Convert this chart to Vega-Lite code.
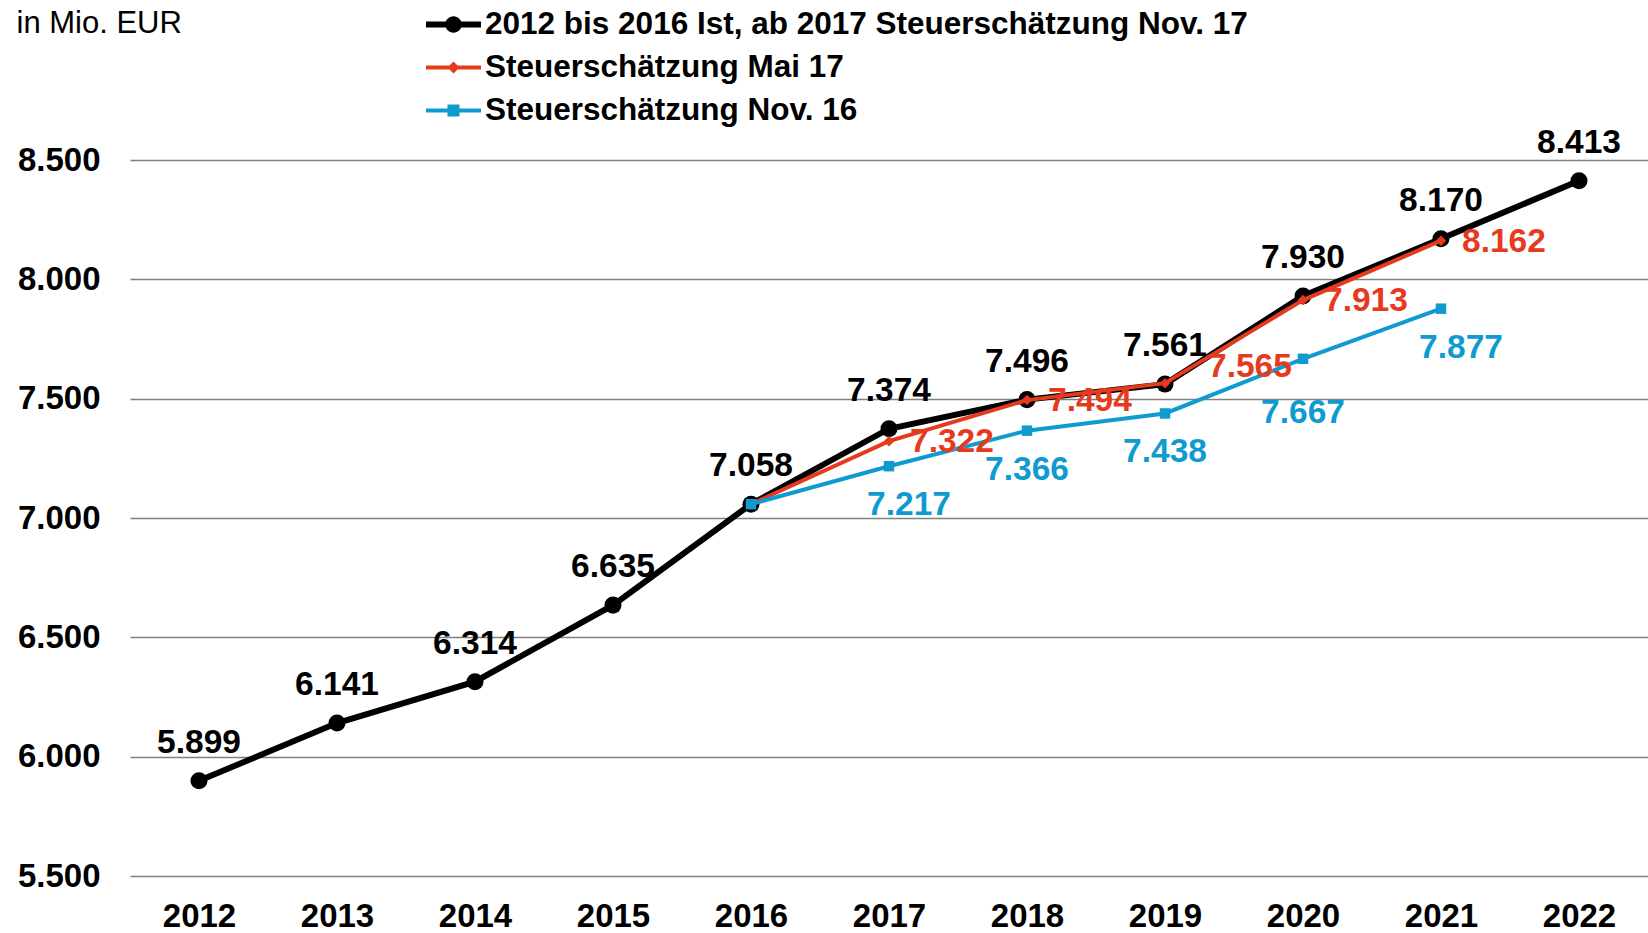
{
  "$schema": "https://vega.github.io/schema/vega-lite/v6.json",
  "width": 1518,
  "height": 716,
  "autosize": {"type": "none"},
  "padding": {"left": 130, "top": 160, "right": 0, "bottom": 57},
  "background": "white",
  "config": {
    "locale": {"number": {"decimal": ",", "thousands": ".", "grouping": [3], "currency": ["", " €"]}},
    "font": "Liberation Sans",
    "view": {"stroke": null}
  },
  "data": {
    "values": [
      {"year": 2012, "series": "2012 bis 2016 Ist, ab 2017 Steuerschätzung Nov. 17", "value": 5899},
      {"year": 2013, "series": "2012 bis 2016 Ist, ab 2017 Steuerschätzung Nov. 17", "value": 6141},
      {"year": 2014, "series": "2012 bis 2016 Ist, ab 2017 Steuerschätzung Nov. 17", "value": 6314},
      {"year": 2015, "series": "2012 bis 2016 Ist, ab 2017 Steuerschätzung Nov. 17", "value": 6635},
      {"year": 2016, "series": "2012 bis 2016 Ist, ab 2017 Steuerschätzung Nov. 17", "value": 7058},
      {"year": 2017, "series": "2012 bis 2016 Ist, ab 2017 Steuerschätzung Nov. 17", "value": 7374},
      {"year": 2018, "series": "2012 bis 2016 Ist, ab 2017 Steuerschätzung Nov. 17", "value": 7496},
      {"year": 2019, "series": "2012 bis 2016 Ist, ab 2017 Steuerschätzung Nov. 17", "value": 7561},
      {"year": 2020, "series": "2012 bis 2016 Ist, ab 2017 Steuerschätzung Nov. 17", "value": 7930},
      {"year": 2021, "series": "2012 bis 2016 Ist, ab 2017 Steuerschätzung Nov. 17", "value": 8170},
      {"year": 2022, "series": "2012 bis 2016 Ist, ab 2017 Steuerschätzung Nov. 17", "value": 8413},
      {"year": 2016, "series": "Steuerschätzung Mai 17", "value": 7058},
      {"year": 2017, "series": "Steuerschätzung Mai 17", "value": 7322},
      {"year": 2018, "series": "Steuerschätzung Mai 17", "value": 7494},
      {"year": 2019, "series": "Steuerschätzung Mai 17", "value": 7565},
      {"year": 2020, "series": "Steuerschätzung Mai 17", "value": 7913},
      {"year": 2021, "series": "Steuerschätzung Mai 17", "value": 8162},
      {"year": 2016, "series": "Steuerschätzung Nov. 16", "value": 7058},
      {"year": 2017, "series": "Steuerschätzung Nov. 16", "value": 7217},
      {"year": 2018, "series": "Steuerschätzung Nov. 16", "value": 7366},
      {"year": 2019, "series": "Steuerschätzung Nov. 16", "value": 7438},
      {"year": 2020, "series": "Steuerschätzung Nov. 16", "value": 7667},
      {"year": 2021, "series": "Steuerschätzung Nov. 16", "value": 7877}
    ]
  },
  "encoding": {
    "x": {
      "field": "year", "type": "ordinal",
      "scale": {"type": "point", "padding": 0.5},
      "axis": {"title": null, "labelAngle": 0, "labelFontSize": 33, "labelFontWeight": "bold", "labelColor": "black", "labelPadding": 24, "ticks": false, "domain": false, "grid": false}
    },
    "y": {
      "field": "value", "type": "quantitative",
      "scale": {"domain": [5500, 8500], "nice": false, "zero": false},
      "axis": {
        "values": [5500, 6000, 6500, 7000, 7500, 8000, 8500],
        "format": ",.0f",
        "labelFontSize": 33, "labelFontWeight": "bold", "labelColor": "black", "labelPadding": 30,
        "ticks": false, "domain": false, "grid": true, "gridColor": "#808080", "gridWidth": 1.5,
        "title": "in Mio. EUR", "titleAngle": 0, "titleX": -114, "titleY": -137, "titleAlign": "left", "titleBaseline": "middle",
        "titleFontSize": 31, "titleFontWeight": "normal", "titleColor": "black"
      }
    }
  },
  "layer": [
    {
      "transform": [{"filter": "datum.series === '2012 bis 2016 Ist, ab 2017 Steuerschätzung Nov. 17'"}],
      "mark": {"type": "line", "color": "#000000", "strokeWidth": 6}
    },
    {
      "transform": [{"filter": "datum.series === '2012 bis 2016 Ist, ab 2017 Steuerschätzung Nov. 17'"}],
      "mark": {"type": "point", "shape": "circle", "filled": true, "color": "#000000", "opacity": 1, "size": 290}
    },
    {
      "transform": [{"filter": "datum.series === 'Steuerschätzung Mai 17'"}],
      "mark": {"type": "line", "color": "#E63A1F", "strokeWidth": 4}
    },
    {
      "transform": [{"filter": "datum.series === 'Steuerschätzung Mai 17'"}],
      "mark": {"type": "point", "shape": "diamond", "filled": true, "color": "#E63A1F", "opacity": 1, "size": 110}
    },
    {
      "transform": [{"filter": "datum.series === 'Steuerschätzung Nov. 16'"}],
      "mark": {"type": "line", "color": "#0F9BD0", "strokeWidth": 4}
    },
    {
      "transform": [{"filter": "datum.series === 'Steuerschätzung Nov. 16'"}],
      "mark": {"type": "point", "shape": "square", "filled": true, "color": "#0F9BD0", "opacity": 1, "size": 110}
    },
    {
      "transform": [{"filter": "datum.series === '2012 bis 2016 Ist, ab 2017 Steuerschätzung Nov. 17'"}],
      "mark": {"type": "text", "color": "#000000", "fontSize": 33.5, "fontWeight": "bold", "dy": -38, "align": "center", "baseline": "middle"},
      "encoding": {"text": {"field": "value", "type": "quantitative", "format": ",.0f"}}
    },
    {
      "transform": [{"filter": "datum.series === 'Steuerschätzung Mai 17' && datum.year != 2016 && datum.year != 2019"}],
      "mark": {"type": "text", "color": "#E63A1F", "fontSize": 33.5, "fontWeight": "bold", "dx": 21, "dy": 1, "align": "left", "baseline": "middle"},
      "encoding": {"text": {"field": "value", "type": "quantitative", "format": ",.0f"}}
    },
    {
      "transform": [{"filter": "datum.series === 'Steuerschätzung Mai 17' && datum.year == 2019"}],
      "mark": {"type": "text", "color": "#E63A1F", "fontSize": 33.5, "fontWeight": "bold", "dx": 43, "dy": -16, "align": "left", "baseline": "middle"},
      "encoding": {"text": {"field": "value", "type": "quantitative", "format": ",.0f"}}
    },
    {
      "transform": [{"filter": "datum.series === 'Steuerschätzung Nov. 16' && (datum.year == 2018 || datum.year == 2019)"}],
      "mark": {"type": "text", "color": "#0F9BD0", "fontSize": 33.5, "fontWeight": "bold", "dy": 39, "align": "center", "baseline": "middle"},
      "encoding": {"text": {"field": "value", "type": "quantitative", "format": ",.0f"}}
    },
    {
      "transform": [{"filter": "datum.series === 'Steuerschätzung Nov. 16' && (datum.year == 2017 || datum.year == 2021)"}],
      "mark": {"type": "text", "color": "#0F9BD0", "fontSize": 33.5, "fontWeight": "bold", "dx": 20, "dy": 39, "align": "center", "baseline": "middle"},
      "encoding": {"text": {"field": "value", "type": "quantitative", "format": ",.0f"}}
    },
    {
      "transform": [{"filter": "datum.series === 'Steuerschätzung Nov. 16' && datum.year == 2020"}],
      "mark": {"type": "text", "color": "#0F9BD0", "fontSize": 33.5, "fontWeight": "bold", "dy": 54, "align": "center", "baseline": "middle"},
      "encoding": {"text": {"field": "value", "type": "quantitative", "format": ",.0f"}}
    },
    {
      "transform": [{"filter": "datum.value < 0"}],
      "mark": {"type": "point", "filled": true, "opacity": 1},
      "encoding": {
        "color": {
          "field": "series", "type": "nominal",
          "scale": {
            "domain": ["2012 bis 2016 Ist, ab 2017 Steuerschätzung Nov. 17", "Steuerschätzung Mai 17", "Steuerschätzung Nov. 16"],
            "range": ["#000000", "#E63A1F", "#0F9BD0"]
          },
          "legend": {
            "title": null, "orient": "none", "legendX": 296, "legendY": -163, "padding": 0,
            "symbolSize": 3025, "symbolStrokeWidth": 0, "symbolOpacity": 1,
            "labelFontSize": 31.5, "labelFontWeight": "bold", "labelColor": "black", "labelOffset": 4,
            "rowPadding": -10, "labelLimit": 1200
          }
        },
        "shape": {
          "field": "series", "type": "nominal",
          "scale": {
            "domain": ["2012 bis 2016 Ist, ab 2017 Steuerschätzung Nov. 17", "Steuerschätzung Mai 17", "Steuerschätzung Nov. 16"],
            "range": [
              "M-1,-0.11L1,-0.11L1,0.11L-1,0.11Z M-0.3,0A0.3,0.3 0 1,1 0.3,0A0.3,0.3 0 1,1 -0.3,0Z",
              "M-1,-0.07L1,-0.07L1,0.07L-1,0.07Z M0,-0.22L0.22,0L0,0.22L-0.22,0Z",
              "M-1,-0.075L1,-0.075L1,0.075L-1,0.075Z M-0.22,-0.22L0.22,-0.22L0.22,0.22L-0.22,0.22Z"
            ]
          }
        }
      }
    }
  ]
}
